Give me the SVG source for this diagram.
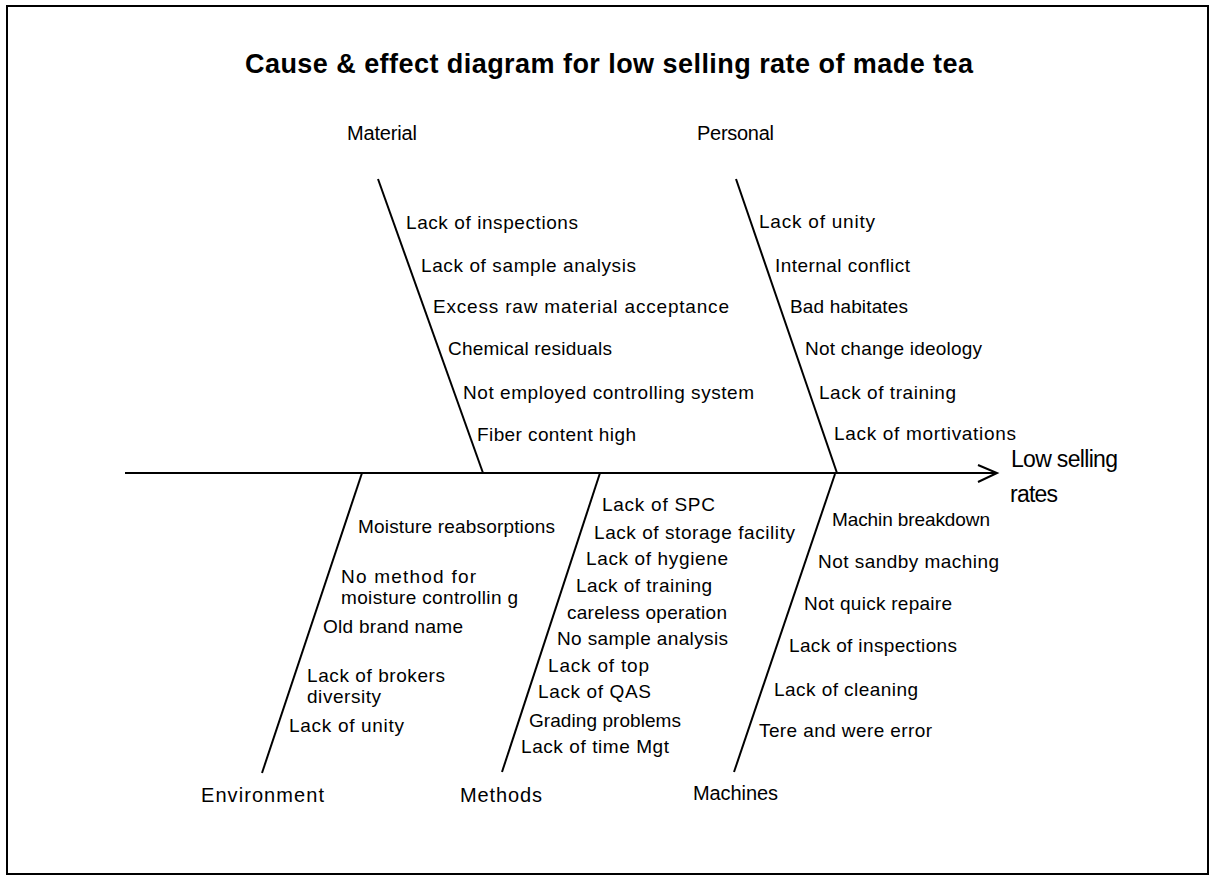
<svg xmlns="http://www.w3.org/2000/svg" width="1210" height="876" viewBox="0 0 1210 876">
<style>
text{font-family:"Liberation Sans",Arial,sans-serif;fill:#000}
.t{font-size:27px;font-weight:bold}
.c{font-size:20px}
.i{font-size:19px}
.e{font-size:23px}
line,polyline{stroke:#000;stroke-width:2;fill:none}
</style>
<rect x="7" y="6" width="1201" height="868" fill="#fff" stroke="#000" stroke-width="2"/>
<text class="t" x="245" y="73" textLength="728">Cause &amp; effect diagram for low selling rate of made tea</text>
<g id="connectors">
<line x1="125" y1="473" x2="996" y2="473"/>
<polyline points="978,465 997,473 978,482"/>
<line x1="378" y1="179" x2="483" y2="473"/>
<line x1="736" y1="179" x2="837" y2="473"/>
<line x1="362" y1="473" x2="262" y2="773"/>
<line x1="600" y1="473" x2="502" y2="772"/>
<line x1="835" y1="474" x2="734" y2="772"/>
</g>
<g id="effect">
<text class="e" x="1011" y="467" textLength="107">Low selling</text>
<text class="e" x="1010" y="502" textLength="48">rates</text>
</g>
<g id="material">
<text class="c" x="347" y="140" textLength="70">Material</text>
<text class="i" x="406" y="229" textLength="172">Lack of inspections</text>
<text class="i" x="421" y="272" textLength="215">Lack of sample analysis</text>
<text class="i" x="433" y="313" textLength="296">Excess raw material acceptance</text>
<text class="i" x="448" y="355" textLength="164">Chemical residuals</text>
<text class="i" x="463" y="399" textLength="291">Not employed controlling system</text>
<text class="i" x="477" y="441" textLength="159">Fiber content high</text>
</g>
<g id="personal">
<text class="c" x="697" y="140" textLength="77">Personal</text>
<text class="i" x="759" y="228" textLength="116">Lack of unity</text>
<text class="i" x="775" y="272" textLength="135">Internal conflict</text>
<text class="i" x="790" y="313" textLength="118">Bad habitates</text>
<text class="i" x="805" y="355" textLength="177">Not change ideology</text>
<text class="i" x="819" y="399" textLength="137">Lack of training</text>
<text class="i" x="834" y="440" textLength="182">Lack of mortivations</text>
</g>
<g id="environment">
<text class="c" x="201" y="802" textLength="123">Environment</text>
<text class="i" x="358" y="533" textLength="197">Moisture reabsorptions</text>
<text class="i" x="341" y="583" textLength="135">No method for</text>
<text class="i" x="341" y="604" textLength="177">moisture controllin g</text>
<text class="i" x="323" y="633" textLength="140">Old brand name</text>
<text class="i" x="307" y="682" textLength="138">Lack of brokers</text>
<text class="i" x="307" y="703" textLength="74">diversity</text>
<text class="i" x="289" y="732" textLength="115">Lack of unity</text>
</g>
<g id="methods">
<text class="c" x="460" y="802" textLength="82">Methods</text>
<text class="i" x="602" y="511" textLength="113">Lack of SPC</text>
<text class="i" x="594" y="539" textLength="201">Lack of storage facility</text>
<text class="i" x="586" y="565" textLength="142">Lack of hygiene</text>
<text class="i" x="576" y="592" textLength="136">Lack of training</text>
<text class="i" x="567" y="619" textLength="160">careless operation</text>
<text class="i" x="557" y="645" textLength="171">No sample analysis</text>
<text class="i" x="548" y="672" textLength="101">Lack of top</text>
<text class="i" x="538" y="698" textLength="113">Lack of QAS</text>
<text class="i" x="529" y="727" textLength="152">Grading problems</text>
<text class="i" x="521" y="753" textLength="148">Lack of time Mgt</text>
</g>
<g id="machines">
<text class="c" x="693" y="800" textLength="85">Machines</text>
<text class="i" x="832" y="526" textLength="158">Machin breakdown</text>
<text class="i" x="818" y="568" textLength="181">Not sandby maching</text>
<text class="i" x="804" y="610" textLength="148">Not quick repaire</text>
<text class="i" x="789" y="652" textLength="168">Lack of inspections</text>
<text class="i" x="774" y="696" textLength="144">Lack of cleaning</text>
<text class="i" x="759" y="737" textLength="173">Tere and were error</text>
</g>
</svg>
